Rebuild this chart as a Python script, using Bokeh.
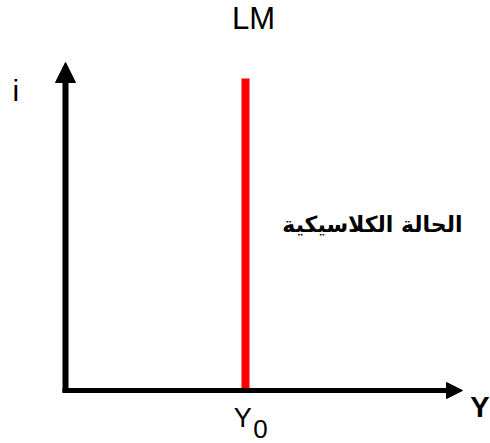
from bokeh.plotting import figure
from bokeh.models import Arrow, NormalHead, Label, Range1d
from bokeh.embed import file_html
from bokeh.resources import INLINE

# Classical-case LM diagram: interest rate i against income Y
axis_x_end = 9.925      # length of the Y (income) axis
axis_y_end = 8.2        # length of the i (interest) axis
y0_level = 4.5          # classical output level Y0
lm_top = 7.8            # top of the vertical LM curve
lm_xs = [y0_level, y0_level]
lm_ys = [0.0, lm_top]

title_text = "LM"
y_axis_label = "i"
x_axis_label = "Y"
y0_label = ["Y", "0"]
case_label = "الحالة الكلاسيكية"

p = figure(width=490, height=443, output_backend="svg", toolbar_location=None,
           x_range=Range1d(-1.625, 10.625), y_range=Range1d(-1.325, 9.75),
           min_border=0, background_fill_color="white", border_fill_color="white")
p.axis.visible = False
p.grid.visible = False
p.outline_line_color = None

# axes drawn as arrows
p.add_layout(Arrow(end=NormalHead(size=20, fill_color="black", line_color="black", line_width=1),
                   x_start=0, y_start=-0.05, x_end=0, y_end=axis_y_end,
                   line_width=6, line_color="black"))
p.add_layout(Arrow(end=NormalHead(size=16, fill_color="black", line_color="black", line_width=1),
                   x_start=-0.075, y_start=0, x_end=axis_x_end, y_end=0,
                   line_width=5, line_color="black"))

# vertical LM curve
p.line(lm_xs, lm_ys, line_color="red", line_width=8)

sans = "Liberation Sans"
p.add_layout(Label(x=4.7, y=9.31, text=title_text, text_font=sans, text_font_size="31px",
                   text_align="center", text_baseline="middle", text_color="black"))
p.add_layout(Label(x=-1.24, y=7.49, text=y_axis_label, text_font=sans, text_font_size="30px",
                   text_align="center", text_baseline="middle", text_color="black"))
p.add_layout(Label(x=10.6, y=-0.41, text=x_axis_label, text_font=sans, text_font_size="29px",
                   text_font_style="bold", text_align="right", text_baseline="middle",
                   text_color="black"))
p.add_layout(Label(x=y0_level - 0.07, y=-0.69, text=y0_label[0], text_font=sans,
                   text_font_size="27px", text_align="center", text_baseline="middle",
                   text_color="black"))
p.add_layout(Label(x=y0_level + 0.375, y=-0.95, text=y0_label[1], text_font=sans,
                   text_font_size="26px", text_align="center", text_baseline="middle",
                   text_color="black"))
p.add_layout(Label(x=9.925, y=4.16, text=case_label, text_font="DejaVu Sans",
                   text_font_size="22px", text_font_style="bold", text_align="right",
                   text_baseline="middle", text_color="black"))

open("out.html", "w").write(file_html(p, INLINE))
